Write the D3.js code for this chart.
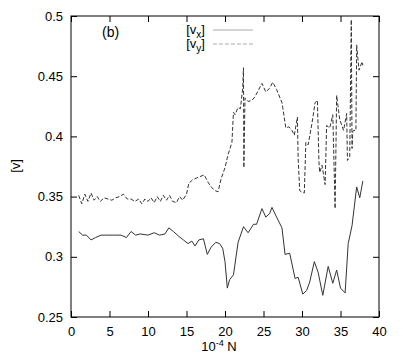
<!DOCTYPE html>
<meta charset="utf-8">
<style>
  body { margin: 0; background: #fff; }
  svg { font-family: "Liberation Sans", Arial, sans-serif; }
  .line { fill: none; stroke: #333; stroke-width: 1; }
  .vy { stroke-dasharray: 4,2; }
  .tick text { font-size: 13px; fill: #000; }
</style>
<svg width="403" height="360"></svg>
<script src="https://cdnjs.cloudflare.com/ajax/libs/d3/7.8.5/d3.min.js"></script>
<script>

// [v_x] against 10^-4 N
var vxN = [1.0,1.5,2.0,2.6,3.2,3.9,4.5,5.5,6.5,7.2,7.8,8.4,9.0,10.0,10.8,11.5,12.2,12.7,13.3,14.0,
           14.6,15.2,15.7,16.1,16.6,17.2,17.7,18.2,18.8,19.3,19.7,20.0,20.3,20.6,21.1,21.7,22.4,23.0,
           23.7,24.1,24.8,25.3,25.8,26.1,26.7,27.4,27.8,28.4,29.1,29.5,30.1,30.6,31.0,31.6,32.1,32.7,
           33.4,34.0,34.5,35.0,35.6,36.0,36.5,37.1,37.5,37.9],
    vxV = [0.321,0.318,0.318,0.314,0.316,0.318,0.318,0.318,0.318,0.316,0.321,0.318,0.319,0.318,0.320,
           0.318,0.319,0.324,0.321,0.317,0.314,0.311,0.313,0.309,0.314,0.315,0.302,0.308,0.312,0.311,
           0.307,0.296,0.274,0.281,0.285,0.312,0.325,0.320,0.327,0.327,0.340,0.333,0.336,0.341,0.333,
           0.324,0.302,0.303,0.282,0.283,0.269,0.272,0.279,0.296,0.287,0.268,0.292,0.278,0.289,0.274,
           0.270,0.311,0.326,0.358,0.349,0.363];

// [v_y] against 10^-4 N
var vyN = [1.0,1.4,1.8,2.2,2.6,3.0,3.4,3.8,4.3,4.8,5.3,5.8,6.3,6.8,7.3,7.8,8.3,8.8,9.2,9.6,10.0,10.4,
           10.8,11.2,11.6,12.0,12.4,12.8,13.2,13.7,14.1,14.5,15.0,15.3,15.8,16.5,17.3,17.8,18.2,18.7,
           19.1,19.5,20.0,20.4,20.9,21.1,21.3,21.7,22.0,22.3,22.4,22.45,22.6,23.0,23.5,23.9,24.8,25.3,
           25.8,26.2,26.7,27.4,27.9,28.3,28.7,29.0,29.4,29.5,29.7,29.9,30.3,30.5,30.8,31.3,31.7,32.0,
           32.2,32.3,32.6,33.0,33.2,33.6,34.0,34.3,34.5,34.9,35.4,35.8,35.9,36.2,36.4,36.5,36.6,36.7,
           37.0,37.1,37.4,37.8,37.9],
    vyV = [0.351,0.344,0.352,0.346,0.353,0.347,0.350,0.346,0.349,0.348,0.347,0.349,0.350,0.352,0.348,
           0.348,0.346,0.348,0.344,0.348,0.346,0.349,0.345,0.350,0.346,0.351,0.347,0.351,0.346,0.345,
           0.350,0.347,0.352,0.361,0.364,0.366,0.368,0.362,0.358,0.355,0.354,0.365,0.374,0.385,0.395,
           0.420,0.418,0.424,0.423,0.440,0.457,0.374,0.432,0.429,0.430,0.433,0.444,0.437,0.440,0.445,
           0.439,0.428,0.407,0.408,0.405,0.401,0.416,0.382,0.355,0.354,0.353,0.395,0.393,0.411,0.428,
           0.430,0.379,0.370,0.376,0.360,0.409,0.407,0.418,0.340,0.434,0.414,0.405,0.419,0.380,0.383,
           0.497,0.390,0.404,0.405,0.405,0.476,0.455,0.462,0.459];

var xTicks = [0, 5, 10, 15, 20, 25, 30, 35, 40],
    yTicks = [0.25, 0.3, 0.35, 0.4, 0.45, 0.5];

var svg = d3.select("svg"),
    margin = {top: 16, right: 24, bottom: 43, left: 71},
    width = +svg.attr("width") - margin.left - margin.right,
    height = +svg.attr("height") - margin.top - margin.bottom;

var g = svg.append("g").attr("transform", "translate(" + margin.left + "," + margin.top + ")");

var x = d3.scaleLinear().domain([0, 40]).range([0, width]);
var y = d3.scaleLinear().domain([0.25, 0.5]).range([height, 0]);

// gnuplot style: ticks point inward, mirrored on top and right
g.append("g")
    .attr("transform", "translate(0," + height + ")")
    .call(d3.axisBottom(x).tickValues(xTicks).tickSizeInner(-6).tickSizeOuter(0).tickPadding(10));
g.append("g")
    .call(d3.axisTop(x).tickValues(xTicks).tickSizeInner(-6).tickSizeOuter(0).tickFormat(""));
g.append("g")
    .call(d3.axisLeft(y).tickValues(yTicks).tickSizeInner(-6).tickSizeOuter(0).tickPadding(8)
      .tickFormat(d3.format("")));
g.append("g")
    .attr("transform", "translate(" + width + ",0)")
    .call(d3.axisRight(y).tickValues(yTicks).tickSizeInner(-6).tickSizeOuter(0).tickFormat(""));

g.selectAll(".domain").remove();
g.selectAll(".tick line").attr("stroke", "#000");

g.append("rect")
    .attr("width", width)
    .attr("height", height)
    .attr("fill", "none")
    .attr("stroke", "#000");

var line = d3.line()
    .x(function(d) { return x(d[0]); })
    .y(function(d) { return y(d[1]); });

g.append("path")
    .datum(d3.zip(vxN, vxV))
    .attr("class", "line vx")
    .attr("d", line);

g.append("path")
    .datum(d3.zip(vyN, vyV))
    .attr("class", "line vy")
    .attr("d", line);

// panel label
g.append("text")
    .attr("x", 31).attr("y", 21)
    .attr("font-size", 14)
    .text("(b)");

// legend
var leg = g.append("g").attr("transform", "translate(" + x(17.4) + ",0)");
[["x", "vx", 14], ["y", "vy", 28]].forEach(function(d) {
  var t = leg.append("text")
      .attr("y", d[2] + 4)
      .attr("text-anchor", "end")
      .attr("font-size", 13);
  t.append("tspan").text("[v");
  t.append("tspan").attr("dy", 4).attr("font-size", 10).text(d[0]);
  t.append("tspan").attr("dy", -4).text("]");
  leg.append("line")
      .attr("class", "line " + d[1])
      .attr("x1", 8).attr("x2", 48)
      .attr("y1", d[2]).attr("y2", d[2])
      .style("stroke", "#aaa");
});

// axis titles
var xt = svg.append("text")
    .attr("x", 219).attr("y", 351)
    .attr("text-anchor", "middle")
    .attr("font-size", 13);
xt.append("tspan").text("10");
xt.append("tspan").attr("dy", -5).attr("font-size", 9).text("-4");
xt.append("tspan").attr("dy", 5).text(" N");

svg.append("text")
    .attr("transform", "translate(20,166) rotate(-90)")
    .attr("text-anchor", "middle")
    .attr("font-size", 13)
    .text("[v]");

</script>
